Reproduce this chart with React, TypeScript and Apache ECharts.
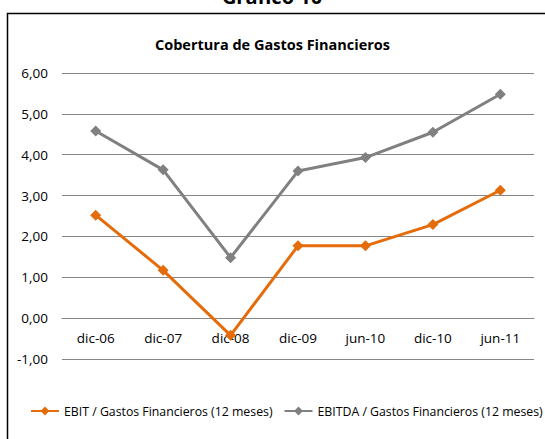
import React, { useEffect, useRef } from "react";
import * as echarts from "echarts";

const categories = ["dic-06", "dic-07", "dic-08", "dic-09", "jun-10", "dic-10", "jun-11"];
const ebit = [2.52, 1.17, -0.42, 1.77, 1.77, 2.29, 3.13];
const ebitda = [4.58, 3.63, 1.48, 3.6, 3.93, 4.55, 5.48];
const seriesNames = ["EBIT / Gastos Financieros (12 meses)", "EBITDA / Gastos Financieros (12 meses)"];
const titleText = "Cobertura de Gastos Financieros";
const outerTitle = "Gráfico 10";

const FONT = "'Open Sans', sans-serif";
const Y_MIN = -1;
const Y_MAX = 6;
const GRID_TOP = 73;
const GRID_BOTTOM = 80;
const H = 439;

export default function App() {
  const ref = useRef<HTMLDivElement>(null);
  useEffect(() => {
    if (!ref.current) return;
    const chart = echarts.init(ref.current, null, { renderer: "svg" });
    const unit = (H - GRID_TOP - GRID_BOTTOM) / (Y_MAX - Y_MIN);
    chart.setOption({
      animation: false,
      backgroundColor: "#ffffff",
      title: {
        text: titleText,
        left: "center",
        top: 32,
        textStyle: { fontFamily: FONT, fontSize: 14.5, fontWeight: "bold", color: "#000" },
      },
      graphic: [
        {
          type: "rect",
          shape: { x: 7.5, y: 13.5, width: 600, height: 500 },
          style: { fill: "none", stroke: "#000", lineWidth: 1.5 },
          z: 100,
        },
        {
          type: "text",
          x: 272,
          y: 6,
          style: {
            text: outerTitle,
            fontFamily: FONT,
            fontSize: 20,
            fontWeight: "bold",
            fill: "#000",
            align: "center",
            verticalAlign: "bottom",
          },
        },
      ],
      legend: {
        top: 405,
        left: 30,
        right: 0,
        padding: 0,
        itemWidth: 28,
        itemHeight: 11,
        itemGap: 11,
        textStyle: { fontFamily: FONT, fontSize: 12.3, color: "#000" },
        data: seriesNames,
      },
      grid: { left: 62, right: 11, top: GRID_TOP, bottom: GRID_BOTTOM },
      xAxis: {
        type: "category",
        data: categories,
        boundaryGap: true,
        offset: -unit * (0 - Y_MIN),
        axisLine: { show: true, onZero: false, lineStyle: { color: "#868686", width: 1 } },
        axisTick: { show: false },
        axisLabel: { fontFamily: FONT, fontSize: 13.5, color: "#000", margin: 13 },
      },
      yAxis: {
        type: "value",
        min: Y_MIN,
        max: Y_MAX,
        interval: 1,
        axisLine: { show: false },
        axisTick: { show: false },
        splitLine: { lineStyle: { color: "#868686", width: 1 } },
        axisLabel: {
          fontFamily: FONT,
          fontSize: 13.5,
          color: "#000",
          margin: 14,
          formatter: (v: number) => v.toFixed(2).replace(".", ","),
        },
      },
      series: [
        {
          name: seriesNames[0],
          type: "line",
          data: ebit,
          color: "#E46C0A",
          symbol: "diamond",
          symbolSize: 11,
          lineStyle: { width: 3, color: "#E46C0A" },
          itemStyle: { color: "#E46C0A" },
        },
        {
          name: seriesNames[1],
          type: "line",
          data: ebitda,
          color: "#808080",
          symbol: "diamond",
          symbolSize: 11,
          lineStyle: { width: 3, color: "#808080" },
          itemStyle: { color: "#808080" },
        },
      ],
    });
    return () => chart.dispose();
  }, []);
  return (
    <div
      ref={ref}
      style={{ position: "absolute", left: 0, top: 0, width: 545, height: 439 }}
    />
  );
}
